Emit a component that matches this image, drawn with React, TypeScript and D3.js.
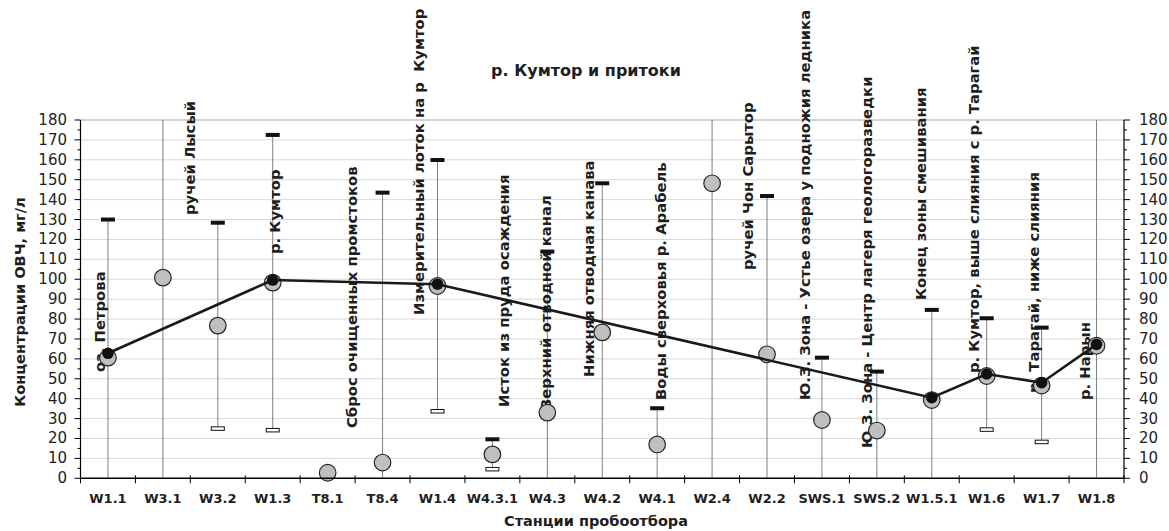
import React from "react";
import * as d3 from "d3";

const categories = ["W1.1","W3.1","W3.2","W1.3","T8.1","T8.4","W1.4","W4.3.1","W4.3","W4.2","W4.1","W2.4","W2.2","SWS.1","SWS.2","W1.5.1","W1.6","W1.7","W1.8"];
// gray circles: concentrations by station
const meanValues = [60.6,100.8,76.7,98.3,2.8,7.9,96.6,12,33,73.3,17,148.2,62.3,29.3,24,39.3,51.4,46.6,66.6];
// upper whisker (max); 180 = off scale; null = none
const maxValues: (number|null)[] = [130,180,128.4,172.5,null,143.5,159.9,19.6,113.9,148.2,35.2,180,141.8,60.6,53.6,84.6,80.4,75.7,180];
// lower whisker (min); null = down to zero, no cap
const minValues: (number|null)[] = [null,null,25.1,24.3,null,null,33.8,4.7,null,null,null,null,null,null,null,null,24.6,18.4,null];
// main river line (black)
const riverValues: (number|null)[] = [62.8,null,null,99.6,null,null,97.5,null,null,null,null,null,null,null,null,40.5,52.4,48,67.3];
const stationNames = ["оз. Петрова","ручей Лысый","","р. Кумтор","","Сброс очищенных промстоков","Измерительный лоток на р  Кумтор","Исток из пруда осаждения","Верхний отводной канал","Нижняя отводная канава","Воды сверховья р. Арабель","","ручей Чон Сарытор","Ю.З. Зона - Устье озера у подножия ледника","Ю.З. Зона - Центр лагеря геологоразведки","Конец зоны смешивания","р. Кумтор, выше слияния с р. Тарагай","р. Тарагай, ниже слияния","р. Нарын"];
const yTicks = [0,10,20,30,40,50,60,70,80,90,100,110,120,130,140,150,160,170,180];

const title = "р. Кумтор и притоки";
const yTitle = "Концентрации ОВЧ, мг/л";
const xTitle = "Станции пробоотбора";

// layout for rotated station labels: x offset from category centre, bottom y (px)
const labelLayout: [number, number][] = [[-8,372],[27,215],[0,0],[2,254],[0,0],[-31,428],[-19,315],[11,407],[-2,410],[-14,377],[3,400],[0,0],[-20,270],[-17,400],[-10,448],[-11,300],[-13,373],[-8,393],[-12,400]];

const W = 1169, H = 531;
const L = 80.5, R = 1124, T = 120, B = 478.3;
const FONT = "'DejaVu Sans', Verdana, sans-serif";
const INK = "#1e1e1e";

export default function App() {
  const x = d3.scaleBand().domain(categories).range([L, R]);
  const y = d3.scaleLinear().domain([0, 180]).range([B, T]);
  const cx = (i: number) => (x(categories[i]) as number) + x.bandwidth() / 2;
  const minor = d3.range(5, 180, 10);
  const riverPts = riverValues.map((v, i) => ({ v, i })).filter(d => d.v != null) as { v: number; i: number }[];
  const line = d3.line<{ v: number; i: number }>().x(d => cx(d.i)).y(d => y(d.v));
  const bounds = d3.range(categories.length + 1).map(k => L + k * x.bandwidth());

  return (
    <svg width={W} height={H} style={{ position: "absolute", left: 0, top: 0, background: "#fff" }} fontFamily={FONT}>
      {/* gridlines */}
      {yTicks.filter(t => t > 0 && t < 180).map(t => (
        <line key={"g" + t} x1={L} x2={R} y1={y(t)} y2={y(t)} stroke="#d9d9d9" strokeWidth={1} />
      ))}
      <line x1={L} x2={R} y1={y(180)} y2={y(180)} stroke="#a6a6a6" strokeWidth={1} />

      {/* whiskers */}
      {categories.map((c, i) => {
        const hi = maxValues[i];
        if (hi == null) return null;
        const lo = minValues[i];
        return (
          <line key={"w" + c} x1={cx(i)} x2={cx(i)} y1={y(Math.min(hi, 180))} y2={y(lo == null ? 0 : lo)} stroke="#7f7f7f" strokeWidth={1} />
        );
      })}
      {categories.map((c, i) => {
        const hi = maxValues[i];
        if (hi == null || hi >= 180) return null;
        return <rect key={"hc" + c} x={cx(i) - 7} y={y(hi) - 2} width={14} height={4} fill="#111" />;
      })}
      {categories.map((c, i) => {
        const lo = minValues[i];
        if (lo == null) return null;
        return <rect key={"lc" + c} x={cx(i) - 6.5} y={y(lo) - 1.5} width={13} height={3.5} fill="#fff" stroke="#111" strokeWidth={1} />;
      })}

      {/* station labels */}
      {stationNames.map((s, i) => s ? (
        <text key={"s" + i} transform={`translate(${cx(i) + labelLayout[i][0]},${labelLayout[i][1]}) rotate(-90)`}
          fontSize={14.8} fontWeight="bold" fill={INK} dominantBaseline="central" style={{ whiteSpace: "pre" }}>{s}</text>
      ) : null)}

      {/* gray circles */}
      {meanValues.map((v, i) => (
        <circle key={"m" + i} cx={cx(i)} cy={y(v)} r={8.3} fill="#bfbfbf" stroke="#262626" strokeWidth={1.2} />
      ))}

      {/* river line */}
      <path d={line(riverPts) || ""} fill="none" stroke="#1a1a1a" strokeWidth={2.6} />
      {riverPts.map(d => (
        <circle key={"r" + d.i} cx={cx(d.i)} cy={y(d.v)} r={5.8} fill="#111" />
      ))}

      {/* axes */}
      <line x1={L} x2={L} y1={T} y2={B} stroke="#000" strokeWidth={1.2} />
      <line x1={R} x2={R} y1={T} y2={B} stroke="#000" strokeWidth={1.2} />
      <line x1={L} x2={R} y1={B} y2={B} stroke="#000" strokeWidth={1.4} />
      {yTicks.map(t => (
        <g key={"yt" + t}>
          <line x1={L - 6} x2={L} y1={y(t)} y2={y(t)} stroke="#000" />
          <line x1={R} x2={R + 6} y1={y(t)} y2={y(t)} stroke="#000" />
          <text x={67} y={y(t)} textAnchor="end" dominantBaseline="central" fontSize={15} fill={INK}>{t}</text>
          <text x={1139} y={y(t)} textAnchor="start" dominantBaseline="central" fontSize={15} fill={INK}>{t}</text>
        </g>
      ))}
      {minor.map(t => (
        <g key={"mt" + t}>
          <line x1={L - 3} x2={L} y1={y(t)} y2={y(t)} stroke="#000" />
          <line x1={R} x2={R + 3} y1={y(t)} y2={y(t)} stroke="#000" />
        </g>
      ))}
      {bounds.map((b, k) => (
        <line key={"xb" + k} x1={b} x2={b} y1={B - 3} y2={B + 5} stroke="#000" />
      ))}
      {categories.map((c, i) => (
        <text key={"xl" + c} x={cx(i)} y={503} textAnchor="middle" fontSize={13} fontWeight="bold" fill={INK}>{c}</text>
      ))}

      {/* titles */}
      <text x={586} y={76} textAnchor="middle" fontSize={16} fontWeight="bold" fill={INK}>{title}</text>
      <text x={596} y={526} textAnchor="middle" fontSize={14.5} fontWeight="bold" fill={INK}>{xTitle}</text>
      <text transform={`translate(19,302) rotate(-90)`} textAnchor="middle" dominantBaseline="central" fontSize={14.6} fontWeight="bold" fill={INK}>{yTitle}</text>
    </svg>
  );
}
